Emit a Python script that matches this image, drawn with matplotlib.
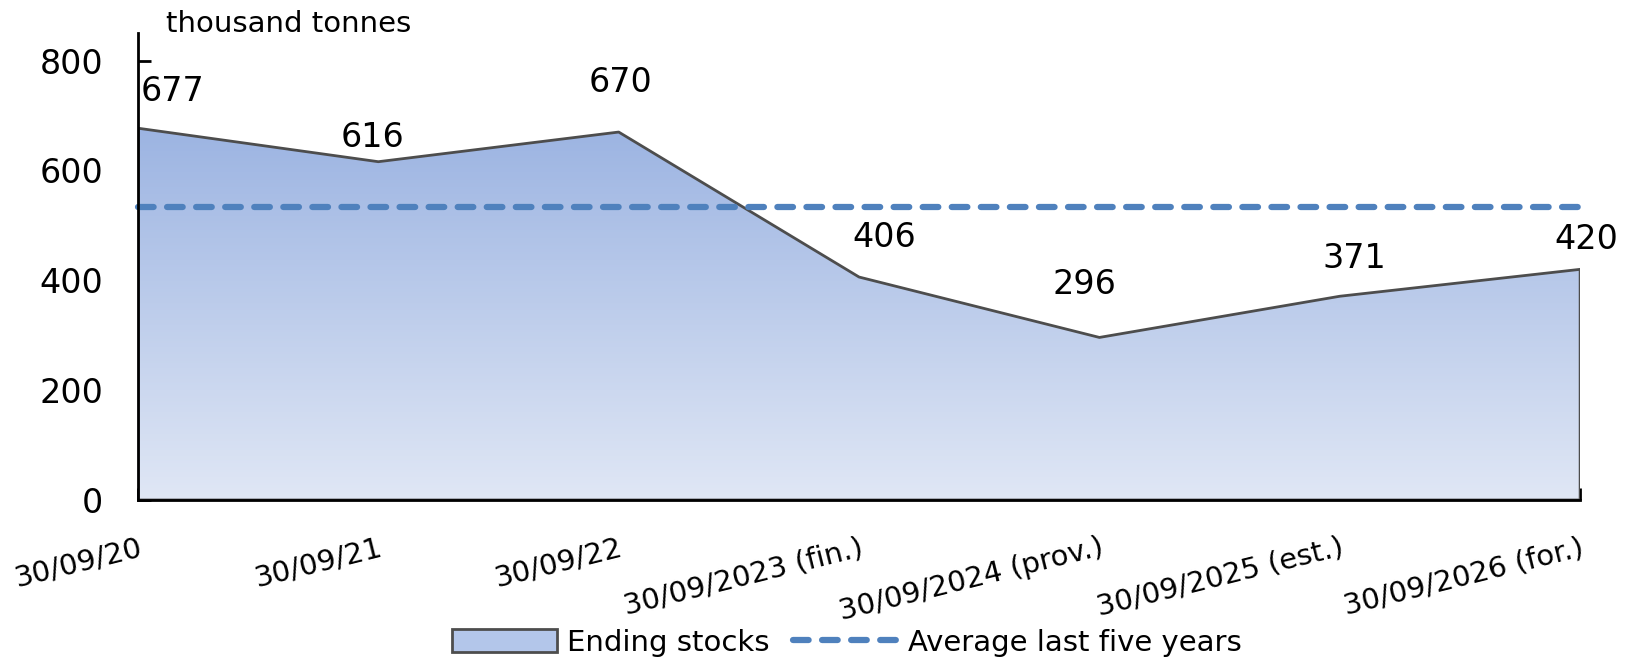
import matplotlib
matplotlib.use('Agg')

import matplotlib.pyplot as plt
import numpy as np
from matplotlib.colors import LinearSegmentedColormap
from matplotlib.patches import Patch, PathPatch
from matplotlib.lines import Line2D

# --- Data ---
DATES = ['30/09/20', '30/09/21', '30/09/22', '30/09/2023 (fin.)',
         '30/09/2024 (prov.)', '30/09/2025 (est.)', '30/09/2026 (for.)']
ENDING_STOCKS = [677, 616, 670, 406, 296, 371, 420]
AVG_FIVE_YEARS = 533

# label nudges in pixels (dx, dy) above each point
LABEL_OFFSETS = [(3, 20), (-6, 8), (2, 33), (25, 23), (-15, 36), (15, 21), (6, 13)]

plt.rcParams['font.family'] = ['DejaVu Sans']
FS = 21      # text
FS_NUM = 24  # numbers

fig = plt.figure(figsize=(16.29, 6.64), dpi=100)
ax = fig.add_axes([0.0847, 0.247, 0.8853, 0.703])

x = np.arange(len(DATES))
ymax = max(ENDING_STOCKS)

# area outline + gradient fill clipped to it
area = ax.fill_between(x, ENDING_STOCKS, 0, facecolor='none',
                       edgecolor='#4d4d4d', linewidth=2, zorder=3)
cmap = LinearSegmentedColormap.from_list('blues', ['#e0e7f5', '#9cb4e2'])
grad = np.linspace(0, 1, 256).reshape(-1, 1)
im = ax.imshow(grad, cmap=cmap, origin='lower', aspect='auto',
               extent=[x[0], x[-1], 0, ymax], zorder=2)
clip = PathPatch(area.get_paths()[0], transform=ax.transData,
                 facecolor='none', edgecolor='none')
ax.add_patch(clip)
im.set_clip_path(clip)

# five-year average
ax.plot(x, [AVG_FIVE_YEARS] * len(x), color='#4f81bd', lw=4.5,
        dashes=(2.5, 2.15), dash_capstyle='round', zorder=4, clip_on=False)

# value labels
for i, v in enumerate(ENDING_STOCKS):
    dx, dy = LABEL_OFFSETS[i]
    ha = 'left' if i == 0 else 'center'
    ax.annotate(str(v), (x[i], v), xytext=(dx, dy), textcoords='offset pixels',
                ha=ha, va='bottom', fontsize=FS_NUM, zorder=5)

ax.set_xlim(x[0], x[-1])
ax.set_ylim(0, 850)
ax.set_yticks([0, 200, 400, 600, 800])
ax.set_xticks(x)
ax.set_xticklabels(DATES, rotation=14, ha='right', va='top',
                   rotation_mode='anchor')

for s in ['top', 'right']:
    ax.spines[s].set_visible(False)
for s in ['left', 'bottom']:
    ax.spines[s].set_linewidth(2)
    ax.spines[s].set_zorder(6)

ax.tick_params(axis='y', direction='in', length=9, width=2, pad=25, labelsize=FS_NUM)
ax.tick_params(axis='x', direction='in', length=9, width=2, pad=24, labelsize=FS)

fig.text(166 / 1629, 1 - 24 / 664, 'thousand tonnes', fontsize=FS,
         ha='left', va='center')

handles = [Patch(facecolor='#b3c6ea', edgecolor='#4d4d4d', linewidth=2),
           Line2D([], [], color='#4f81bd', lw=4.5, dashes=(2.5, 2.15),
                  dash_capstyle='round')]
fig.legend(handles, ['Ending stocks', 'Average last five years'],
           loc='center', bbox_to_anchor=(0.52, 0.032), ncol=2, frameon=False,
           fontsize=FS, handlelength=3.6, handleheight=0.85,
           handletextpad=0.35, columnspacing=0.8)

fig.savefig('out.png', dpi=100)
plt.close(fig)
